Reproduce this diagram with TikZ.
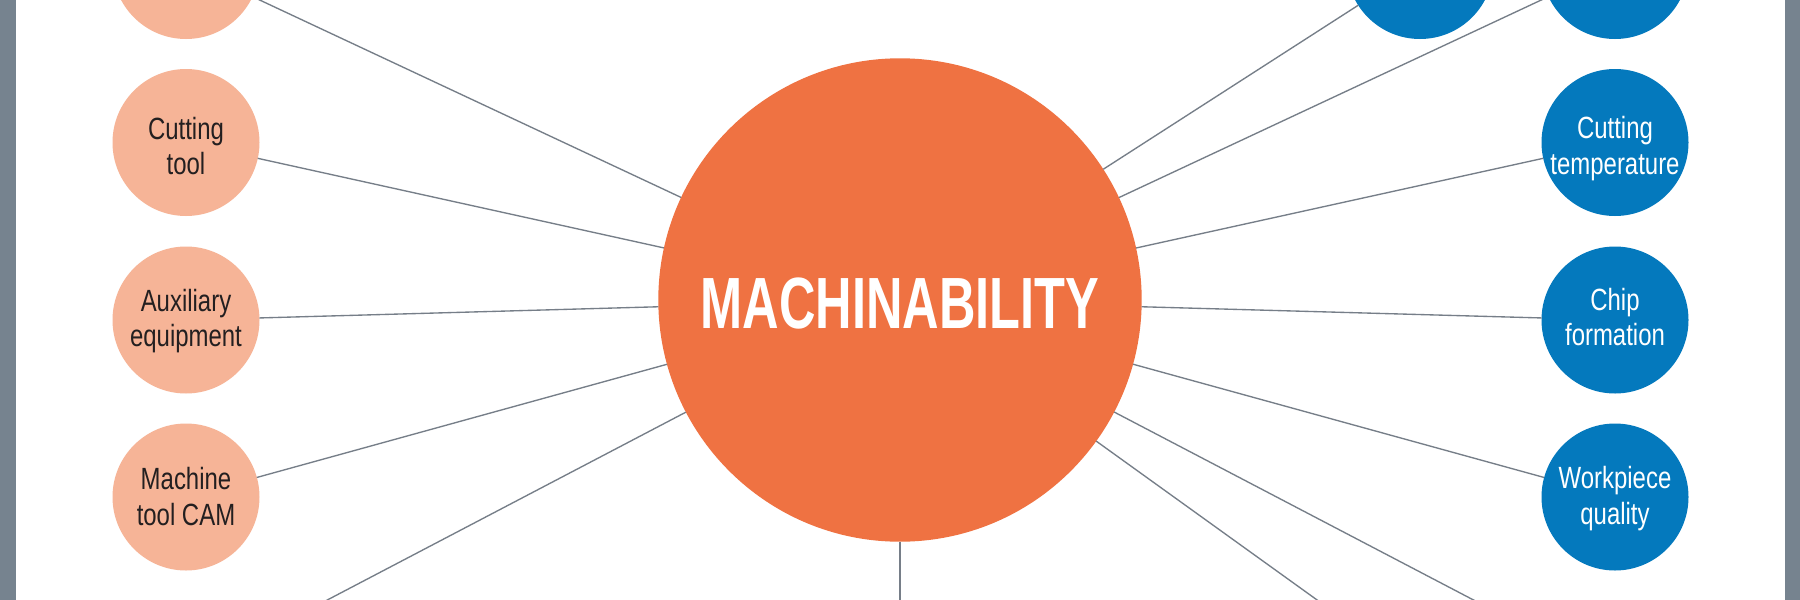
\documentclass[tikz,border=0pt]{standalone}
\usepackage{fontspec}
\setmainfont{Liberation Sans}[FakeStretch=0.78]
\newfontfamily\titlefont{Liberation Sans}[FakeStretch=0.696]
\definecolor{orangeC}{HTML}{EF7242}
\definecolor{peachC}{HTML}{F6B497}
\definecolor{blueC}{HTML}{0479BD}
\definecolor{frameC}{HTML}{76838F}
\definecolor{lineC}{HTML}{767E88}
\definecolor{darkT}{HTML}{231F20}
\newcommand{\twolines}[3]{\raisebox{#1}[0pt][0pt]{\begin{tabular}[t]{@{}c@{}}#2\\#3\end{tabular}}}
\begin{document}
\begin{tikzpicture}[x=1pt,y=-1pt,
 hub/.style={circle,fill=orangeC,minimum size=483.4pt,inner sep=0pt,outer sep=0pt,text=white,font=\titlefont\bfseries\fontsize{72.6}{80}\selectfont},
 leaf/.style={circle,minimum size=147pt,inner sep=0pt,outer sep=0pt,font=\fontsize{30.7}{35.7}\selectfont},
 cause/.style={leaf,fill=peachC,text=darkT},
 effect/.style={leaf,fill=blueC,text=white},
 link/.style={draw=lineC,line width=1.35pt}]
\useasboundingbox (0,0) rectangle (1800,600);
\clip (0,0) rectangle (1800,600);
\fill[white] (0,0) rectangle (1800,600);
\fill[frameC] (0,0) rectangle (16,600);
\fill[frameC] (1785,0) rectangle (1800,600);
% hub
\node[hub] (m) at (900,300) {\raisebox{-28pt}[0pt][0pt]{MACHINABILITY}};
% left column
\node[cause] (l0) at (186,-34.5) {};
\node[cause] (l1) at (186,142.5) {\twolines{3.5pt}{Cutting}{tool}};
\node[cause] (l2) at (186,320) {\twolines{9pt}{Auxiliary}{equipment}};
\node[cause] (l3) at (186,497) {\twolines{7.7pt}{Machine}{tool CAM}};
\coordinate (l4) at (186,674);
% right column
\node[effect] (r0) at (1420,-34.5) {};
\node[effect] (r1) at (1615,-34.5) {};
\node[effect] (r2) at (1615,142.5) {\twolines{4.2pt}{Cutting}{temperature}};
\node[effect] (r3) at (1615,320) {\twolines{10pt}{Chip}{formation}};
\node[effect] (r4) at (1615,497) {\twolines{8.7pt}{Workpiece}{quality}};
\coordinate (r5) at (1615,674);
\coordinate (r6) at (1420,674);
\coordinate (b0) at (900,700);
% connectors
\foreach \n in {l0,l1,l2,l3,r0,r1,r2,r3,r4}
  \draw[link] (m) -- (\n);
\foreach \n in {l4,r5,r6,b0}
  \draw[link] (m) -- (\n);
\end{tikzpicture}
\end{document}
